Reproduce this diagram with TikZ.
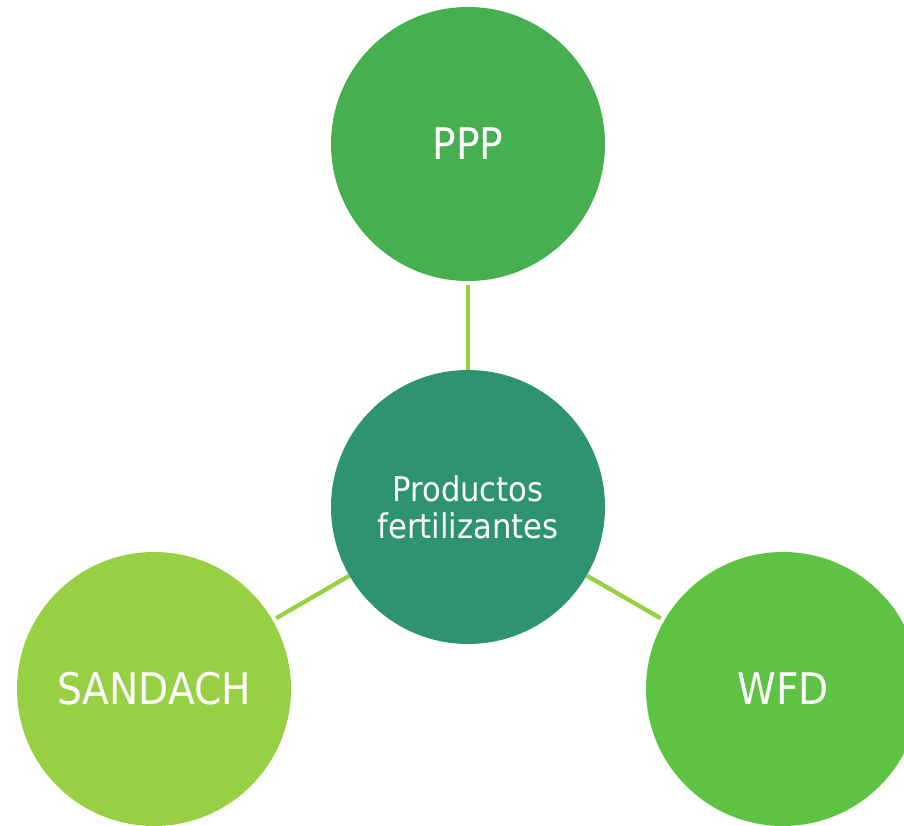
\documentclass[tikz,border=0pt]{standalone}
\usepackage{fontspec}
\setmainfont{DejaVu Sans Condensed}
\definecolor{pppgreen}{HTML}{46B050}
\definecolor{centregreen}{HTML}{2E9470}
\definecolor{sandachgreen}{HTML}{98D044}
\definecolor{wfdgreen}{HTML}{5EC243}
\definecolor{linkgreen}{HTML}{98D044}
\tikzset{
  topic/.style={circle,minimum size=274pt,inner sep=0pt,text=white,
    font=\fontsize{43.5}{48}\selectfont},
  hub/.style={topic,fill=centregreen,align=center,
    font=\fontsize{34}{37}\selectfont},
  link/.style={draw=linkgreen,line width=4.3pt,shorten <=4pt}
}
\begin{document}
\begin{tikzpicture}[x=1pt,y=-1pt]
  \useasboundingbox (0,0) rectangle (904,826);

  \node[hub] (centre) at (468,507) {Productos\\fertilizantes};
  \node[topic,fill=pppgreen] (ppp) at (468,144) {PPP};
  \node[topic,fill=sandachgreen] (sandach) at (154,689) {SANDACH};
  \node[topic,fill=wfdgreen] (wfd) at (783,689) {WFD};

  \foreach \n in {ppp,sandach,wfd}
    \draw[link] (\n) -- (centre);
\end{tikzpicture}
\end{document}
